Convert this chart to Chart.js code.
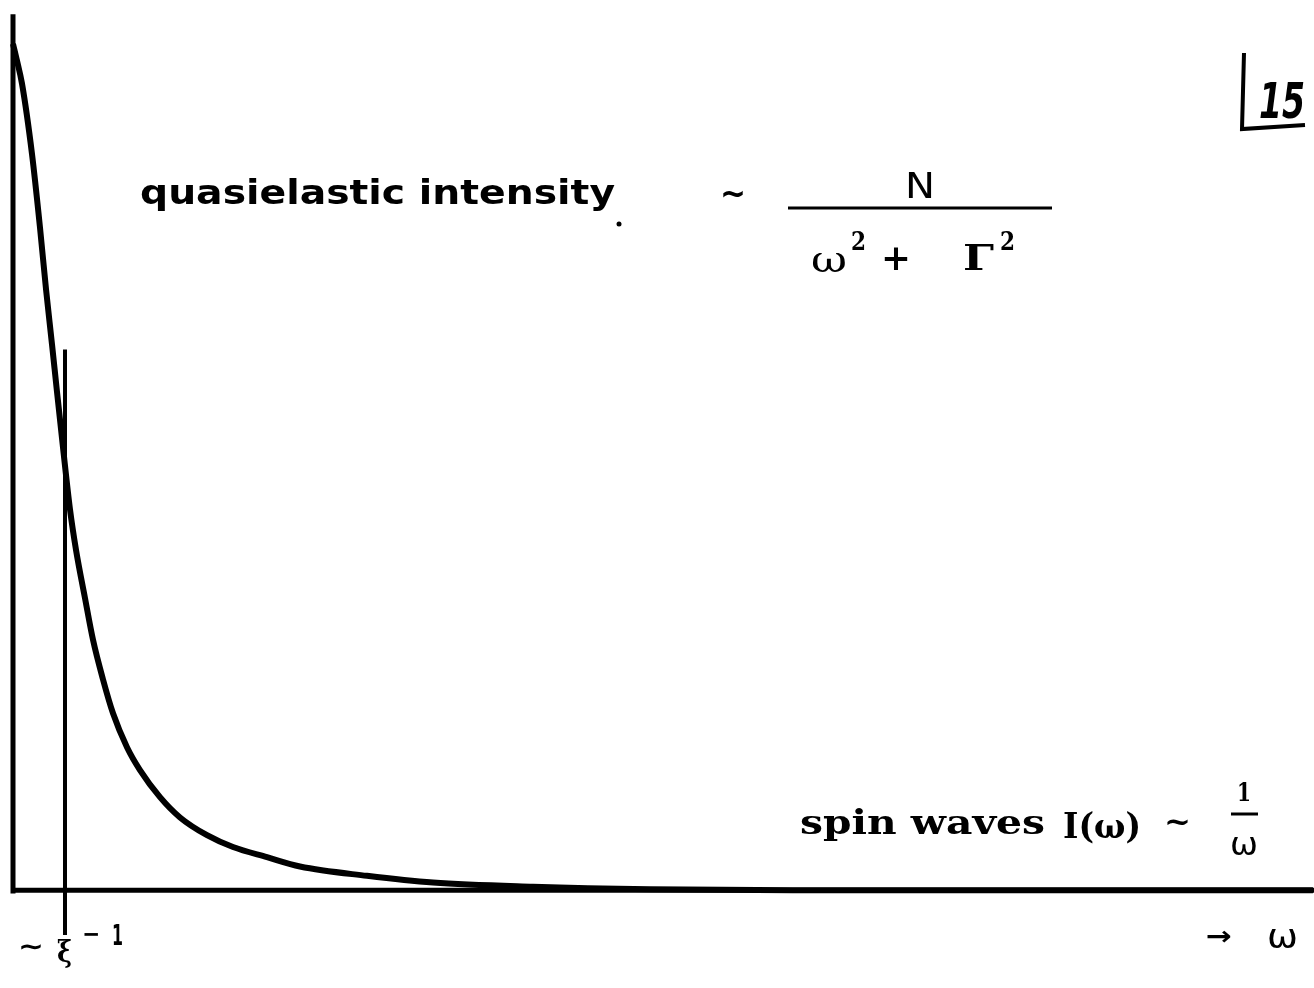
<!DOCTYPE html>
<html>
<head>
<meta charset="utf-8">
<title>quasielastic intensity</title>
<script src="https://cdn.jsdelivr.net/npm/chart.js@4/dist/chart.umd.min.js"></script>
<style>
  html, body { margin: 0; padding: 0; background: #fff; }
  #wrap { width: 1314px; height: 988px; position: relative; }
</style>
</head>
<body>
<div id="wrap"><canvas id="chart"></canvas></div>
<script>
// omega in units of the marked frequency (xi^-1), intensity normalised to the peak
const omega = [0, 0.077, 0.173, 0.365, 0.519, 0.635, 0.750, 0.846, 0.962, 1.096, 1.212, 1.385,
    1.538, 1.731, 1.923, 2.192, 2.442, 2.827, 3.212, 3.731, 4.231, 4.885, 5.519, 6.808,
    8.077, 10.0, 12.25, 15.13, 25.0];
const intensity = [1.0, 0.980, 0.953, 0.870, 0.783, 0.710, 0.645, 0.589, 0.523, 0.450, 0.402, 0.345,
    0.296, 0.249, 0.209, 0.169, 0.142, 0.110, 0.086, 0.065, 0.051, 0.039, 0.028, 0.017,
    0.009, 0.004, 0.001, 0.0, 0.0];

// axes and the marker at omega ~ xi^-1
const axisX = [[0, 0], [25.02, 0]];
const axisY = [[0, -0.004], [0, 1.035]];
const markerLine = [[1, 0.639], [1, -0.053]];

const toPts = arr => arr.map(p => ({ x: p[0], y: p[1] }));
const curve = omega.map((w, i) => ({ x: w, y: intensity[i] }));

// scale text horizontally so it fills a given width
function fitText(ctx, txt, x, y, w, font) {
    ctx.font = font;
    const m = ctx.measureText(txt).width;
    ctx.save();
    ctx.translate(x, y);
    ctx.scale(w / m, 1);
    ctx.fillText(txt, 0, 0);
    ctx.restore();
}

const labels = {
    id: 'labels',
    afterDraw(chart) {
        const ctx = chart.ctx;
        ctx.save();
        ctx.fillStyle = '#000';
        ctx.strokeStyle = '#000';
        ctx.textBaseline = 'alphabetic';

        // quasielastic part
        fitText(ctx, 'quasielastic intensity', 140, 204, 475, 'bold 34px "DejaVu Sans"');
        ctx.beginPath(); ctx.arc(619, 224, 2.5, 0, Math.PI * 2); ctx.fill();
        fitText(ctx, '~', 720, 205, 26, 'bold 34px "DejaVu Sans"');
        fitText(ctx, 'N', 905, 198, 30, '36px "DejaVu Sans"');
        ctx.lineWidth = 3;
        ctx.beginPath(); ctx.moveTo(788, 208); ctx.lineTo(1052, 208); ctx.stroke();
        fitText(ctx, 'ω', 811, 272, 36, '38px "DejaVu Serif"');
        fitText(ctx, '2', 851, 250, 15, 'bold 26px "DejaVu Serif"');
        fitText(ctx, '+', 881, 270, 30, 'bold 36px "DejaVu Serif"');
        fitText(ctx, 'Γ', 963, 270, 31, 'bold 36px "DejaVu Serif"');
        fitText(ctx, '2', 1000, 250, 15, 'bold 26px "DejaVu Serif"');

        // spin-wave part
        fitText(ctx, 'spin waves', 800, 834, 245, 'bold 34px "DejaVu Serif"');
        fitText(ctx, 'I(ω)', 1063, 838, 78, 'bold 36px "DejaVu Serif"');
        fitText(ctx, '~', 1164, 832, 27, 'bold 32px "DejaVu Serif"');
        fitText(ctx, '1', 1237, 801, 14, 'bold 26px "DejaVu Serif"');
        ctx.lineWidth = 3;
        ctx.beginPath(); ctx.moveTo(1231, 814); ctx.lineTo(1258, 814); ctx.stroke();
        fitText(ctx, 'ω', 1230, 855, 28, '32px "DejaVu Sans"');

        // x-axis label
        fitText(ctx, '→', 1206, 945, 26, 'bold 26px "DejaVu Sans"');
        fitText(ctx, 'ω', 1267, 948, 31, '34px "DejaVu Sans"');

        // marker label
        fitText(ctx, '∼', 18, 955, 26, 'bold 26px "DejaVu Sans"');
        fitText(ctx, 'ξ', 57, 962, 15, 'bold 30px "DejaVu Serif"');
        fitText(ctx, '−', 82, 942, 18, 'bold 24px "DejaVu Sans"');
        fitText(ctx, '1', 112, 945, 11, 'bold 28px "DejaVu Sans"');

        // page number
        ctx.lineWidth = 4;
        ctx.beginPath();
        ctx.moveTo(1244, 53); ctx.lineTo(1242, 129); ctx.lineTo(1305, 125);
        ctx.stroke();
        fitText(ctx, '15', 1259, 118, 46, 'bold italic 50px "DejaVu Sans"');
        ctx.restore();
    }
};

const lineStyle = { showLine: true, pointRadius: 0, borderColor: '#000', clip: false };

new Chart(document.getElementById('chart'), {
    type: 'scatter',
    data: {
        datasets: [
            Object.assign({ label: 'I', data: curve, borderWidth: 6, cubicInterpolationMode: 'monotone' }, lineStyle),
            Object.assign({ label: 'x axis', data: toPts(axisX), borderWidth: 5 }, lineStyle),
            Object.assign({ label: 'y axis', data: toPts(axisY), borderWidth: 5 }, lineStyle),
            Object.assign({ label: 'xi', data: toPts(markerLine), borderWidth: 4 }, lineStyle)
        ]
    },
    options: {
        responsive: true,
        maintainAspectRatio: false,
        animation: false,
        layout: { padding: { left: 13, right: 0, top: 10, bottom: 47 } },
        scales: {
            x: { type: 'linear', display: false, min: 0, max: 25.02 },
            y: { type: 'linear', display: false, min: -0.06, max: 1.04 }
        },
        plugins: {
            legend: { display: false },
            tooltip: { enabled: false }
        }
    },
    plugins: [labels]
});
</script>
</body>
</html>
